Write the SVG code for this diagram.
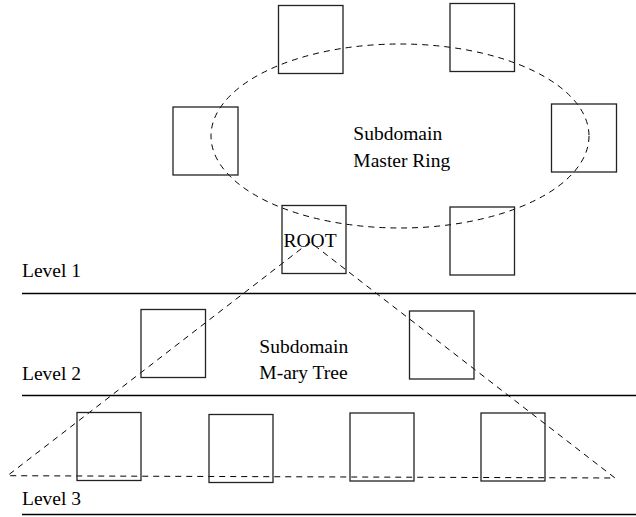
<svg xmlns="http://www.w3.org/2000/svg" width="636" height="517" viewBox="0 0 636 517">
<style>
.box{fill:none;stroke:#222;stroke-width:1.3}
.dash{fill:none;stroke:#000;stroke-width:1;stroke-dasharray:6 5}
.lvl{stroke:#000;stroke-width:1.6}
text{font-family:"Liberation Serif","Times New Roman",serif;font-size:19.5px;fill:#000}
</style>
<rect width="636" height="517" fill="#fff"/>
<g id="levels">
<line class="lvl" x1="22" y1="293.5" x2="636" y2="293.5"/>
<line class="lvl" x1="22" y1="395.5" x2="636" y2="395.5"/>
<line class="lvl" x1="22" y1="514.5" x2="636" y2="514.5"/>
<text x="22" y="276.5">Level 1</text>
<text x="22" y="379.5">Level 2</text>
<text x="22" y="505">Level 3</text>
</g>
<g id="connectors">
<ellipse class="dash" cx="400" cy="136" rx="189" ry="92"/>
<polygon class="dash" points="310,242 7.5,475.7 615,478"/>
</g>
<g id="ring-top-left"><rect class="box" x="278.5" y="5.5" width="64.5" height="68"/></g>
<g id="ring-top-right"><rect class="box" x="450" y="3.5" width="64.5" height="68"/></g>
<g id="ring-left"><rect class="box" x="173" y="107" width="65" height="68"/></g>
<g id="ring-right"><rect class="box" x="551.5" y="104" width="65" height="68"/></g>
<g id="root"><rect class="box" x="282" y="205.5" width="64" height="68"/><text x="283.5" y="246.5">ROOT</text></g>
<g id="ring-bottom-right"><rect class="box" x="450" y="207" width="64.5" height="68"/></g>
<g id="ring-label"><text x="353.3" y="140.3">Subdomain</text><text x="353.3" y="166.7">Master Ring</text></g>
<g id="l2-left"><rect class="box" x="141" y="309.5" width="64.5" height="68"/></g>
<g id="l2-right"><rect class="box" x="409.5" y="311" width="64.5" height="68"/></g>
<g id="tree-label"><text x="259.3" y="353.3">Subdomain</text><text x="259.3" y="379.3">M-ary Tree</text></g>
<g id="l3-1"><rect class="box" x="77" y="412.5" width="64" height="68"/></g>
<g id="l3-2"><rect class="box" x="209" y="414.5" width="64" height="68"/></g>
<g id="l3-3"><rect class="box" x="350" y="413" width="64" height="68"/></g>
<g id="l3-4"><rect class="box" x="481" y="413" width="64" height="68"/></g>
</svg>
